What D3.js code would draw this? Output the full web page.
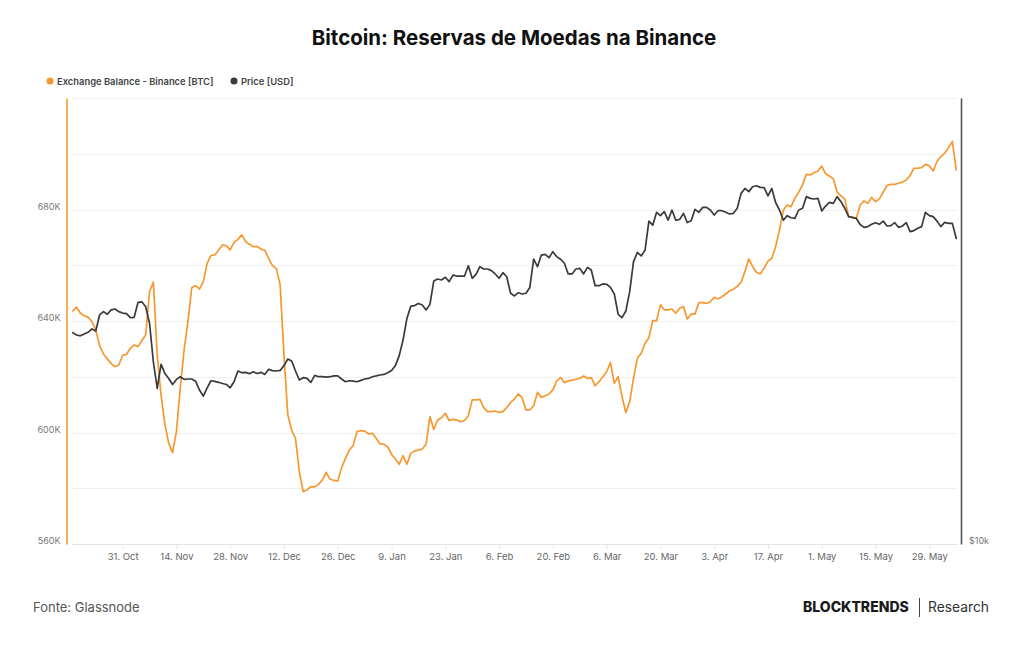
<!DOCTYPE html>
<html>
<head>
<meta charset="utf-8">
<script src="https://cdn.jsdelivr.net/npm/d3@7"></script>
<style>
  body { margin: 0; background: #fff; font-family: Inter, "Noto Sans", sans-serif; }
</style>
</head>
<body>
<svg id="chart" width="1024" height="645"></svg>
<script>
// daily series, first point on startDate
const startDate = "2022-10-18";

// Exchange Balance - Binance, thousands of BTC
const balanceK = [
  643.6, 645.0, 642.8, 641.9, 641.4, 639.8, 636.8, 631.2, 628.2, 626.4,
  624.7, 623.6, 624.2, 627.7, 628.0, 630.2, 631.4, 630.8, 633.0, 635.0,
  650.5, 653.9, 627.8, 613.5, 602.9, 596.1, 592.8, 600.3, 615.9, 629.6,
  639.8, 652.0, 652.7, 651.4, 654.1, 660.7, 663.5, 663.7, 665.5, 667.3,
  667.0, 665.5, 668.2, 669.3, 670.9, 668.5, 667.5, 666.7, 666.7, 665.8,
  665.4, 662.5, 659.9, 658.9, 652.9, 627.8, 606.3, 600.9, 597.9, 586.0,
  578.8, 579.4, 580.6, 580.5, 581.4, 583.0, 585.7, 583.3, 582.8, 582.6,
  587.4, 590.7, 593.7, 595.3, 600.3, 600.7, 600.5, 599.5, 599.7, 597.9,
  595.9, 595.8, 594.9, 592.2, 590.5, 588.6, 591.7, 588.6, 592.5, 593.4,
  593.7, 594.1, 595.8, 605.7, 601.1, 604.5, 605.3, 606.9, 604.3, 604.7,
  604.5, 603.9, 604.3, 606.0, 611.7, 611.7, 611.9, 608.9, 607.5, 607.5,
  607.7, 607.2, 607.5, 609.0, 610.8, 612.0, 613.8, 612.5, 608.1, 608.1,
  609.6, 614.4, 612.6, 613.2, 613.8, 615.3, 618.5, 619.7, 617.9, 618.5,
  618.8, 619.1, 619.4, 620.3, 619.4, 619.7, 616.7, 618.2, 620.0, 621.8,
  625.1, 617.6, 620.0, 612.9, 607.1, 611.1, 619.4, 626.6, 628.4, 632.0,
  634.0, 640.1, 640.1, 645.8, 644.0, 644.0, 644.3, 642.8, 644.6, 645.2,
  640.7, 642.5, 642.5, 646.6, 646.6, 646.3, 646.9, 648.5, 647.9, 648.7,
  649.7, 650.8, 651.4, 652.4, 653.9, 657.7, 662.3, 659.5, 657.5, 656.9,
  658.9, 661.5, 662.5, 666.7, 672.7, 679.8, 681.6, 681.0, 684.0, 686.2,
  688.8, 692.6, 692.4, 693.2, 693.8, 695.6, 692.9, 692.0, 691.0, 686.2,
  684.9, 683.8, 677.4, 677.1, 676.8, 681.6, 683.1, 682.2, 684.3, 682.8,
  683.8, 686.2, 688.6, 689.0, 689.0, 689.4, 689.8, 690.6, 692.2, 694.8,
  694.8, 695.0, 696.2, 695.7, 693.8, 697.2, 699.0, 700.2, 702.2, 704.4,
  694.2
];

// Price, USD
const priceUsd = [
  19290, 19150, 19100, 19210, 19310, 19510, 19390, 20380, 20590, 20420,
  20700, 20760, 20590, 20500, 20460, 20210, 20230, 21190, 21230, 20910,
  19860, 17620, 16220, 17480, 16990, 16730, 16420, 16680, 16820, 16680,
  16700, 16700, 16590, 16140, 15840, 16250, 16610, 16580, 16530, 16470,
  16420, 16250, 16560, 17120, 17030, 17050, 16980, 17080, 16990, 17050,
  16940, 17210, 17140, 17120, 17150, 17410, 17770, 17660, 17120, 16650,
  16770, 16730, 16530, 16890, 16820, 16820, 16800, 16820, 16860, 16860,
  16700, 16560, 16610, 16590, 16560, 16630, 16700, 16730, 16820, 16860,
  16910, 16940, 17030, 17150, 17410, 17960, 18850, 20160, 20930, 20980,
  21120, 21020, 20700, 21060, 22650, 22790, 22720, 22910, 22600, 23070,
  23000, 23000, 23000, 23750, 22840, 23120, 23680, 23510, 23510, 23390,
  23150, 22840, 23240, 22950, 21800, 21620, 21840, 21750, 21800, 22200,
  24250, 23680, 24550, 24600, 24350, 24810, 24430, 24230, 23930, 23150,
  23150, 23510, 23560, 23150, 23630, 23440, 22320, 22320, 22440, 22420,
  22200, 21750, 20420, 20210, 20630, 21910, 24050, 24750, 24480, 24930,
  27280, 26940, 28040, 27750, 28090, 27360, 28240, 27360, 27420, 27950,
  27160, 27310, 28300, 28040, 28470, 28470, 28240, 27800, 28180, 28180,
  28040, 27890, 27950, 28390, 29740, 30200, 29900, 30360, 30450, 30300,
  30270, 29500, 30200, 28890, 28240, 27360, 27750, 27570, 27510, 28240,
  28390, 29440, 29280, 29220, 29280, 28150, 28590, 28920, 28830, 29440,
  28980, 28390, 27660, 27600, 27510, 27000, 26760, 26820, 27010, 27150,
  27010, 27280, 26870, 26900, 27150, 26760, 26870, 27150, 26400, 26490,
  26680, 26820, 28040, 27750, 27660, 27280, 26820, 27170, 27090, 27090,
  25860
];

const tickDates = ["2022-10-31", "2022-11-14", "2022-11-28", "2022-12-12", "2022-12-26",
  "2023-01-09", "2023-01-23", "2023-02-06", "2023-02-20", "2023-03-06", "2023-03-20",
  "2023-04-03", "2023-04-17", "2023-05-01", "2023-05-15", "2023-05-29"];
const balanceGrid = [560, 580, 600, 620, 640, 660, 680, 700, 720];
const balanceLabels = [560, 600, 640, 680];
const priceLabels = [10000];

const orange = "#f7982f";
const dark = "#3a3a3a";

const svg = d3.select("#chart");
const parse = d3.utcParse("%Y-%m-%d");
const dates = balanceK.map((_, i) => d3.utcDay.offset(parse(startDate), i));

const plotLeft = 72, plotRight = 957, plotTop = 98, plotBottom = 544;

const x = d3.scaleUtc().domain([dates[0], dates[dates.length - 1]]).range([72.7, 956.2]);
const yBal = d3.scaleLinear().domain([560, 720]).range([plotBottom, plotTop]);
const yPrice = d3.scaleLog().domain([10000, 40000]).range([plotBottom, plotTop]);

// title
svg.append("text")
  .attr("x", 514).attr("y", 45)
  .attr("text-anchor", "middle")
  .attr("font-size", 20.5).attr("font-weight", 700).attr("fill", "#111")
  .text("Bitcoin: Reservas de Moedas na Binance");

// legend
const legend = [
  {label: "Exchange Balance - Binance [BTC]", color: orange, x: 50},
  {label: "Price [USD]", color: dark, x: 234}
];
legend.forEach(l => {
  svg.append("circle").attr("cx", l.x).attr("cy", 81).attr("r", 3.5).attr("fill", l.color);
  svg.append("text").attr("x", l.x + 7).attr("y", 84.5)
    .attr("font-size", 9.4).attr("font-weight", 600).attr("fill", "#444")
    .text(l.label);
});

// horizontal grid
svg.append("g").selectAll("line").data(balanceGrid).join("line")
  .attr("x1", plotLeft).attr("x2", plotRight)
  .attr("y1", d => Math.round(yBal(d)) + 0.5).attr("y2", d => Math.round(yBal(d)) + 0.5)
  .attr("stroke", d => d === 560 ? "#e3e3e3" : "#efefef").attr("stroke-width", 1);

// x axis
const xAxis = svg.append("g")
  .attr("transform", `translate(0,${plotBottom})`)
  .call(d3.axisBottom(x)
    .tickValues(tickDates.map(parse))
    .tickFormat(d3.utcFormat("%-d. %b"))
    .tickSize(5).tickPadding(4.5));
xAxis.select(".domain").remove();
xAxis.selectAll(".tick line").attr("stroke", "#e6e6e6");
xAxis.selectAll(".tick text").attr("fill", "#666").attr("font-size", 9.5)
  .attr("font-family", "Inter, sans-serif");

// left axis (balance)
const leftAxis = svg.append("g")
  .attr("transform", "translate(66.5,0)")
  .call(d3.axisLeft(yBal).tickValues(balanceLabels).tickFormat(d => d + "K")
    .tickSize(0).tickSizeOuter(0).tickPadding(6));
leftAxis.select(".domain").attr("stroke", orange).attr("stroke-width", 1.6);
leftAxis.selectAll(".tick text").attr("fill", "#777").attr("font-size", 9)
  .attr("dy", "-0.05em").attr("font-family", "Inter, sans-serif");

// right axis (price)
const rightAxis = svg.append("g")
  .attr("transform", "translate(961,0)")
  .call(d3.axisRight(yPrice).tickValues(priceLabels).tickFormat(() => "$10k")
    .tickSize(0).tickSizeOuter(0).tickPadding(8));
rightAxis.select(".domain").attr("stroke", "#555").attr("stroke-width", 1.6);
rightAxis.selectAll(".tick text").attr("fill", "#777").attr("font-size", 9)
  .attr("dy", "-0.05em").attr("font-family", "Inter, sans-serif");

// lines
const balLine = d3.line().x((d, i) => x(dates[i])).y(d => yBal(d));
const priceLine = d3.line().x((d, i) => x(dates[i])).y(d => yPrice(d));

svg.append("path").datum(balanceK)
  .attr("fill", "none").attr("stroke", orange).attr("stroke-width", 1.7)
  .attr("stroke-linejoin", "round").attr("stroke-linecap", "round")
  .attr("d", balLine);

svg.append("path").datum(priceUsd)
  .attr("fill", "none").attr("stroke", dark).attr("stroke-width", 1.7)
  .attr("stroke-linejoin", "round").attr("stroke-linecap", "round")
  .attr("d", priceLine);

// footer
svg.append("text").attr("x", 33).attr("y", 611.5)
  .attr("font-size", 13).attr("fill", "#555").text("Fonte: Glassnode");
svg.append("text").attr("x", 803).attr("y", 611.5)
  .attr("font-size", 14).attr("font-weight", 800).attr("fill", "#1a1a1a").text("BLOCKTRENDS");
svg.append("line").attr("x1", 919.5).attr("x2", 919.5).attr("y1", 598).attr("y2", 617)
  .attr("stroke", "#444").attr("stroke-width", 1);
svg.append("text").attr("x", 928).attr("y", 611.5)
  .attr("font-size", 13.8).attr("fill", "#333").text("Research");
</script>
</body>
</html>
